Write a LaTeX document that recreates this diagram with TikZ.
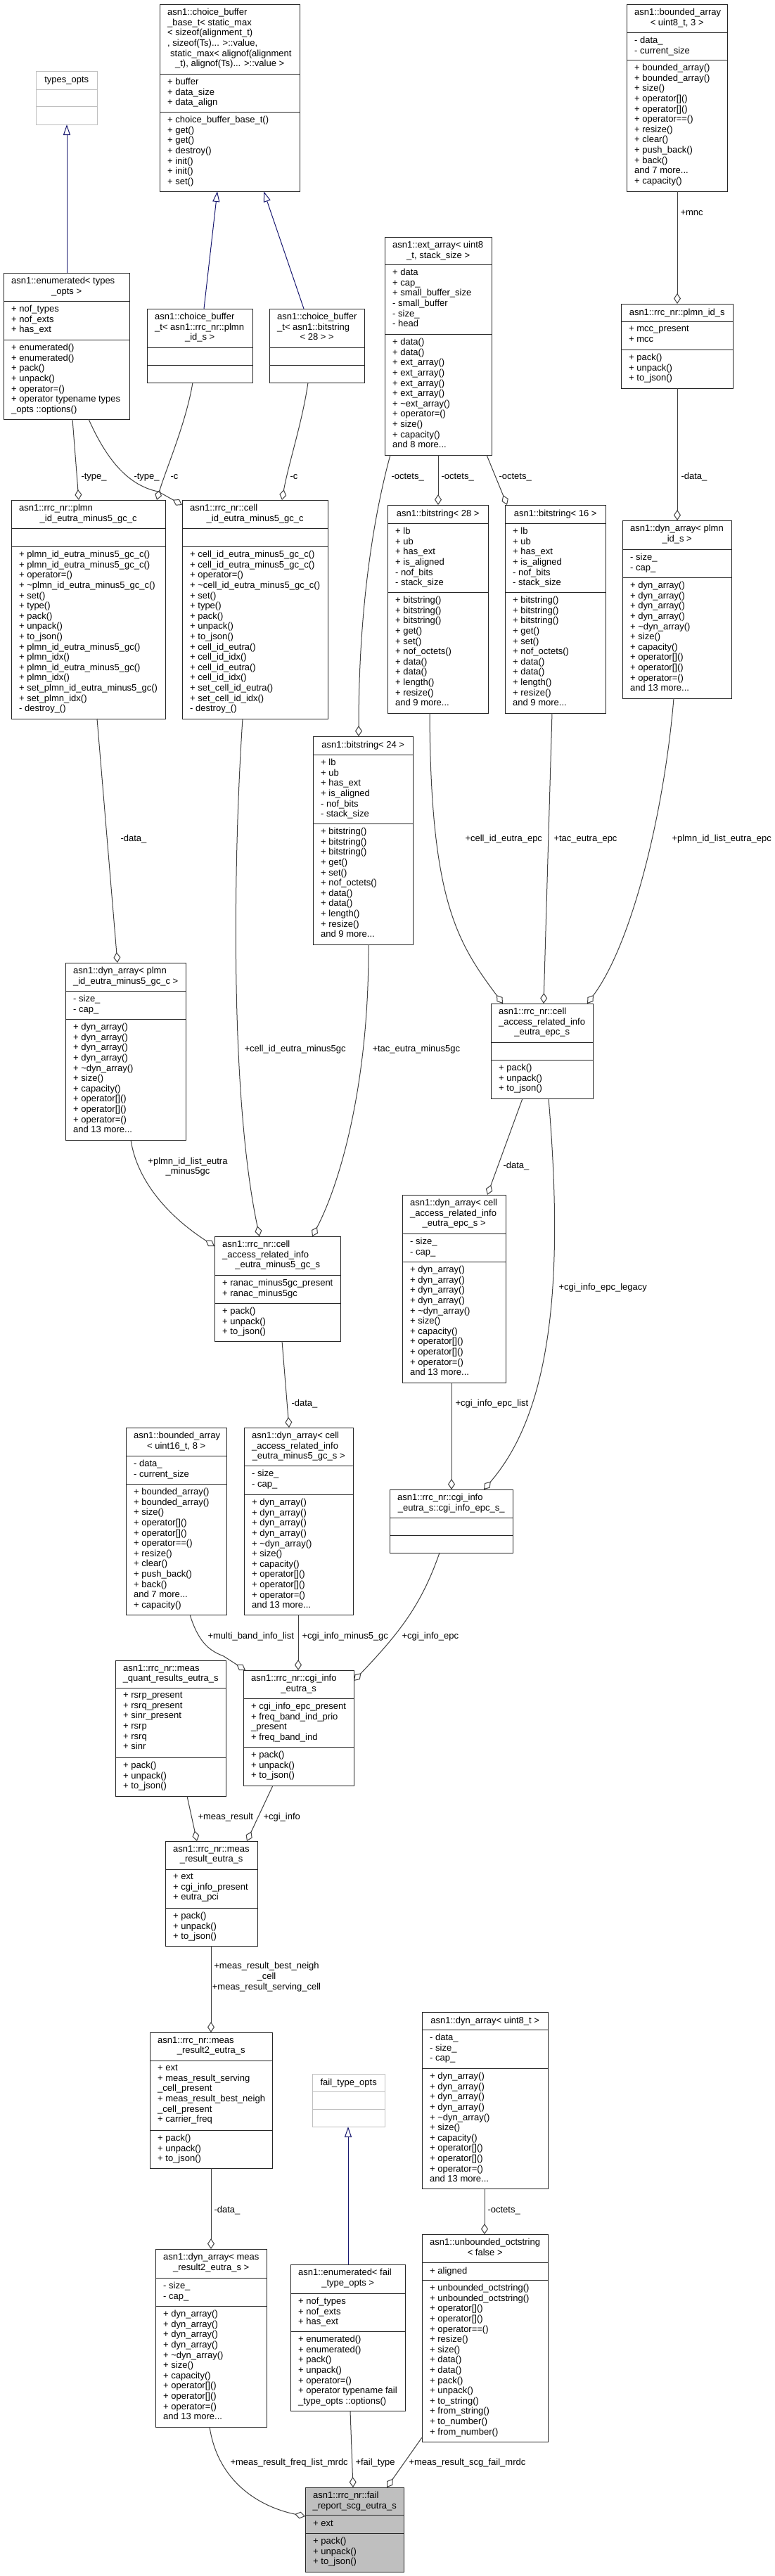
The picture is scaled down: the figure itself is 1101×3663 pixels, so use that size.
\documentclass[tikz,border=0pt]{standalone}
\usepackage{fontspec}
\setmainfont{Liberation Sans}
\usepackage{tikz}
\usetikzlibrary{arrows.meta,fit}
\definecolor{edgegray}{HTML}{404040}
\definecolor{edgeblue}{HTML}{191970}
\definecolor{optsgray}{HTML}{BFBFBF}
\newcommand{\classfont}{\fontsize{13}{14.6}\selectfont}
\newcommand{\lastline}[1]{\makebox[\titlew pt][c]{#1}}
\newcommand{\classbox}[7][]{%
  \pgfmathsetmacro{\titlew}{#5-#3-22}%
  \node[umlbox, #1, fit={(#3,#4) (#5,#6)}] (#2) {};
  \node[classtext, xshift=11pt, yshift=-6pt] at (#2.north west) {#7};
}
\newcommand{\members}[6][]{%
  \draw[umlline, #1] (#2.west |- 0,#3) -- (#2.east |- 0,#3);
  \draw[umlline, #1] (#2.west |- 0,#4) -- (#2.east |- 0,#4);
  \node[classtext, xshift=11pt, yshift=-6pt] at (#2.west |- 0,#3) {#5};
  \node[classtext, xshift=11pt, yshift=-6pt] at (#2.west |- 0,#4) {#6};
}
\newcommand{\pjmethods}{+ pack()\\+ unpack()\\+ to\_json()}
\newcommand{\dynattrs}{- size\_\\- cap\_}
\newcommand{\dynmethods}{+ dyn\_array()\\+ dyn\_array()\\+ dyn\_array()\\+ dyn\_array()\\+ \textasciitilde dyn\_array()\\+ size()\\+ capacity()\\+ operator[]()\\+ operator[]()\\+ operator=()\\and 13 more...}
\newcommand{\bitattrs}{+ lb\\+ ub\\+ has\_ext\\+ is\_aligned\\- nof\_bits\\- stack\_size}
\newcommand{\bitmethods}{+ bitstring()\\+ bitstring()\\+ bitstring()\\+ get()\\+ set()\\+ nof\_octets()\\+ data()\\+ data()\\+ length()\\+ resize()\\and 9 more...}
\newcommand{\boundedattrs}{- data\_\\- current\_size}
\newcommand{\boundedmethods}{+ bounded\_array()\\+ bounded\_array()\\+ size()\\+ operator[]()\\+ operator[]()\\+ operator==()\\+ resize()\\+ clear()\\+ push\_back()\\+ back()\\and 7 more...\\+ capacity()}
\newcommand{\enumattrs}{+ nof\_types\\+ nof\_exts\\+ has\_ext}
\tikzset{
  umlbox/.style={draw=black!85, line width=1pt, fill=white, inner sep=0pt, outer sep=0pt},
  optsbox/.style={draw=optsgray},
  focusbox/.style={fill=optsgray},
  umlline/.style={draw=black!85, line width=1pt},
  optsline/.style={draw=optsgray},
  classtext/.style={anchor=north west, inner sep=0pt, align=left, font=\classfont, execute at begin node=\strut},
  lbl/.style={anchor=west, inner sep=0pt, font=\classfont, execute at begin node=\strut},
  agg/.style={draw=edgegray, line width=1pt, -{Diamond[open, length=15pt, width=10pt]}},
  inherit/.style={draw=edgeblue, line width=1pt, -{Triangle[open, length=15pt, width=10pt]}}
}
\begin{document}
\begin{tikzpicture}[x=1pt, y=-1pt]
\path[use as bounding box, fill=white] (0,0) rectangle (1101,3663);

\classbox[optsbox]{tyopts}{51}{101}{138}{177}{\lastline{types\_opts}}
\members[optsline]{tyopts}{127}{151}{}{}
\classbox{cbbase}{227}{6}{426}{272}{asn1::choice\_buffer\\\_base\_t< static\_max\\< sizeof(alignment\_t)\\, sizeof(Ts)... >::value,\\\hspace{4pt}static\_max< alignof(alignment\\\lastline{\_t), alignof(Ts)... >::value >}}
\members{cbbase}{105}{159}{+ buffer\\+ data\_size\\+ data\_align}{+ choice\_buffer\_base\_t()\\+ get()\\+ get()\\+ destroy()\\+ init()\\+ init()\\+ set()}
\classbox{barr8}{891}{6}{1034}{272}{asn1::bounded\_array\\\lastline{< uint8\_t, 3 >}}
\members{barr8}{46}{85}{\boundedattrs}{\boundedmethods}
\classbox{enumty}{5}{388}{184}{596}{asn1::enumerated< types\\\lastline{\_opts >}}
\members{enumty}{428}{483}{\enumattrs}{+ enumerated()\\+ enumerated()\\+ pack()\\+ unpack()\\+ operator=()\\+ operator typename types\\\_opts ::options()}
\classbox{cbplmn}{209}{439}{359}{544}{asn1::choice\_buffer\\\_t< asn1::rrc\_nr::plmn\\\lastline{\_id\_s >}}
\members{cbplmn}{494}{519}{}{}
\classbox{cbbs28}{383}{439}{518}{544}{asn1::choice\_buffer\\\_t< asn1::bitstring\\\lastline{< 28 > >}}
\members{cbbs28}{494}{519}{}{}
\classbox{extarr}{547}{337}{699}{647}{asn1::ext\_array< uint8\\\lastline{\_t, stack\_size >}}
\members{extarr}{376}{475}{+ data\\+ cap\_\\+ small\_buffer\_size\\- small\_buffer\\- size\_\\- head}{+ data()\\+ data()\\+ ext\_array()\\+ ext\_array()\\+ ext\_array()\\+ ext\_array()\\+ \textasciitilde ext\_array()\\+ operator=()\\+ size()\\+ capacity()\\and 8 more...}
\classbox{plmnid}{883}{432}{1042}{552}{\lastline{asn1::rrc\_nr::plmn\_id\_s}}
\members{plmnid}{457}{497}{+ mcc\_present\\+ mcc}{\pjmethods}
\classbox{plmneutra}{16}{711}{235}{1022}{asn1::rrc\_nr::plmn\\\lastline{\_id\_eutra\_minus5\_gc\_c}}
\members{plmneutra}{751}{777}{}{+ plmn\_id\_eutra\_minus5\_gc\_c()\\+ plmn\_id\_eutra\_minus5\_gc\_c()\\+ operator=()\\+ \textasciitilde plmn\_id\_eutra\_minus5\_gc\_c()\\+ set()\\+ type()\\+ pack()\\+ unpack()\\+ to\_json()\\+ plmn\_id\_eutra\_minus5\_gc()\\+ plmn\_idx()\\+ plmn\_id\_eutra\_minus5\_gc()\\+ plmn\_idx()\\+ set\_plmn\_id\_eutra\_minus5\_gc()\\+ set\_plmn\_idx()\\- destroy\_()}
\classbox{cellideutra}{259}{711}{466}{1022}{asn1::rrc\_nr::cell\\\lastline{\_id\_eutra\_minus5\_gc\_c}}
\members{cellideutra}{751}{777}{}{+ cell\_id\_eutra\_minus5\_gc\_c()\\+ cell\_id\_eutra\_minus5\_gc\_c()\\+ operator=()\\+ \textasciitilde cell\_id\_eutra\_minus5\_gc\_c()\\+ set()\\+ type()\\+ pack()\\+ unpack()\\+ to\_json()\\+ cell\_id\_eutra()\\+ cell\_id\_idx()\\+ cell\_id\_eutra()\\+ cell\_id\_idx()\\+ set\_cell\_id\_eutra()\\+ set\_cell\_id\_idx()\\- destroy\_()}
\classbox{bs28}{551}{718}{694}{1014}{\lastline{asn1::bitstring< 28 >}}
\members{bs28}{744}{842}{\bitattrs}{\bitmethods}
\classbox{bs16}{718}{718}{861}{1014}{\lastline{asn1::bitstring< 16 >}}
\members{bs16}{744}{842}{\bitattrs}{\bitmethods}
\classbox{dynplmnid}{885}{740}{1040}{993}{asn1::dyn\_array< plmn\\\lastline{\_id\_s >}}
\members{dynplmnid}{781}{821}{\dynattrs}{\dynmethods}
\classbox{bs24}{445}{1047}{587}{1343}{\lastline{asn1::bitstring< 24 >}}
\members{bs24}{1073}{1171}{\bitattrs}{\bitmethods}
\classbox{dynplmneutra}{93}{1369}{264}{1621}{asn1::dyn\_array< plmn\\\lastline{\_id\_eutra\_minus5\_gc\_c >}}
\members{dynplmneutra}{1409}{1449}{\dynattrs}{\dynmethods}
\classbox{carepc}{698}{1427}{843}{1562}{asn1::rrc\_nr::cell\\\_access\_related\_info\\\lastline{\_eutra\_epc\_s}}
\members{carepc}{1482}{1507}{}{\pjmethods}
\classbox{dynepc}{572}{1699}{719}{1966}{asn1::dyn\_array< cell\\\_access\_related\_info\\\lastline{\_eutra\_epc\_s >}}
\members{dynepc}{1754}{1794}{\dynattrs}{\dynmethods}
\classbox{carim5}{305}{1758}{484}{1907}{asn1::rrc\_nr::cell\\\_access\_related\_info\\\lastline{\_eutra\_minus5\_gc\_s}}
\members{carim5}{1813}{1853}{+ ranac\_minus5gc\_present\\+ ranac\_minus5gc}{\pjmethods}
\classbox{barr16}{179}{2030}{322}{2296}{asn1::bounded\_array\\\lastline{< uint16\_t, 8 >}}
\members{barr16}{2070}{2110}{\boundedattrs}{\boundedmethods}
\classbox{dynm5}{347}{2030}{502}{2296}{asn1::dyn\_array< cell\\\_access\_related\_info\\\lastline{\_eutra\_minus5\_gc\_s >}}
\members{dynm5}{2084}{2125}{\dynattrs}{\dynmethods}
\classbox{cgiepc}{554}{2118}{729}{2208}{asn1::rrc\_nr::cgi\_info\\\lastline{\_eutra\_s::cgi\_info\_epc\_s\_}}
\members{cgiepc}{2158}{2183}{}{}
\classbox{measquant}{164}{2361}{321}{2554}{asn1::rrc\_nr::meas\\\lastline{\_quant\_results\_eutra\_s}}
\members{measquant}{2400}{2499}{+ rsrp\_present\\+ rsrq\_present\\+ sinr\_present\\+ rsrp\\+ rsrq\\+ sinr}{\pjmethods}
\classbox{cgieutra}{346}{2375}{503}{2539}{asn1::rrc\_nr::cgi\_info\\\lastline{\_eutra\_s}}
\members{cgieutra}{2415}{2484}{+ cgi\_info\_epc\_present\\+ freq\_band\_ind\_prio\\\_present\\+ freq\_band\_ind}{\pjmethods}
\classbox{measres}{235}{2618}{366}{2767}{asn1::rrc\_nr::meas\\\lastline{\_result\_eutra\_s}}
\members{measres}{2658}{2713}{+ ext\\+ cgi\_info\_present\\+ eutra\_pci}{\pjmethods}
\classbox{measres2}{213}{2890}{387}{3083}{asn1::rrc\_nr::meas\\\lastline{\_result2\_eutra\_s}}
\members{measres2}{2930}{3029}{+ ext\\+ meas\_result\_serving\\\_cell\_present\\+ meas\_result\_best\_neigh\\\_cell\_present\\+ carrier\_freq}{\pjmethods}
\classbox[optsbox]{ftopts}{444}{2949}{547}{3024}{\lastline{fail\_type\_opts}}
\members[optsline]{ftopts}{2974}{2999}{}{}
\classbox{dynu8}{600}{2861}{779}{3112}{\lastline{asn1::dyn\_array< uint8\_t >}}
\members{dynu8}{2886}{2941}{- data\_\\\dynattrs}{\dynmethods}
\classbox{unbocts}{600}{3177}{779}{3472}{asn1::unbounded\_octstring\\\lastline{< false >}}
\members{unbocts}{3217}{3242}{+ aligned}{+ unbounded\_octstring()\\+ unbounded\_octstring()\\+ operator[]()\\+ operator[]()\\+ operator==()\\+ resize()\\+ size()\\+ data()\\+ data()\\+ pack()\\+ unpack()\\+ to\_string()\\+ from\_string()\\+ to\_number()\\+ from\_number()}
\classbox{dynmr2}{221}{3198}{379}{3451}{asn1::dyn\_array< meas\\\lastline{\_result2\_eutra\_s >}}
\members{dynmr2}{3239}{3279}{\dynattrs}{\dynmethods}
\classbox{enumft}{413}{3220}{576}{3428}{asn1::enumerated< fail\\\lastline{\_type\_opts >}}
\members{enumft}{3261}{3315}{\enumattrs}{+ enumerated()\\+ enumerated()\\+ pack()\\+ unpack()\\+ operator=()\\+ operator typename fail\\\_type\_opts ::options()}
\classbox[focusbox]{failrep}{434}{3537}{574}{3657}{asn1::rrc\_nr::fail\\\lastline{\_report\_scg\_eutra\_s}}
\members{failrep}{3576}{3602}{+ ext}{\pjmethods}

% inheritance
\draw[inherit] (enumty.north -| 95,0) -- (tyopts.south -| 95,0);
\draw[inherit] (cbplmn.north -| 290,0) -- (cbbase.south -| 309,0);
\draw[inherit] (cbbs28.north -| 432,0) -- (cbbase.south -| 375,0);
\draw[inherit] (enumft.north -| 495,0) -- (ftopts.south -| 495,0);

% members
\draw[agg] (barr8.south -| 963,0) -- (plmnid.north -| 963,0) node[lbl] at (967,304) {+mnc};
\draw[agg] (enumty.south -| 103,0) -- (plmneutra.north -| 112,0) node[lbl] at (115,679) {-type\_};
\draw[agg] (enumty.south -| 126,0) .. controls (150,650) and (180,690) .. (225,699) -- (cellideutra.west |- 0,718) node[lbl] at (190,679) {-type\_};
\draw[agg] (cbplmn.south -| 274,0) .. controls (265,600) and (235,670) .. (plmneutra.north -| 223,0) node[lbl] at (242,679) {-c};
\draw[agg] (cbbs28.south -| 438,0) .. controls (430,600) and (410,660) .. (cellideutra.north -| 401,0) node[lbl] at (412,679) {-c};
\draw[agg] (extarr.south -| 555,0) .. controls (535,720) and (510,850) .. (bs24.north -| 510,0) node[lbl] at (556,679) {-octets\_};
\draw[agg] (extarr.south -| 623,0) -- (bs28.north -| 623,0) node[lbl] at (627,679) {-octets\_};
\draw[agg] (extarr.south -| 692,0) -- (bs16.north -| 721,0) node[lbl] at (709,679) {-octets\_};
\draw[agg] (plmnid.south -| 963,0) -- (dynplmnid.north -| 963,0) node[lbl] at (968,679) {-data\_};
\draw[agg] (plmneutra.south -| 138,0) -- (dynplmneutra.north -| 167,0) node[lbl] at (171,1194) {-data\_};
\draw[agg] (cellideutra.south -| 345,0) .. controls (333,1200) and (325,1550) .. (carim5.north -| 369,0) node[lbl] at (347,1493) {+cell\_id\_eutra\_minus5gc};
\draw[agg] (bs24.south -| 524,0) .. controls (525,1550) and (480,1690) .. (carim5.north -| 444,0) node[lbl] at (529,1493) {+tac\_eutra\_minus5gc};
\draw[agg] (dynplmneutra.south -| 186,0) .. controls (195,1680) and (240,1730) .. (carim5.west |- 0,1772) node[lbl, anchor=center, align=center] at (267,1660) {+plmn\_id\_list\_eutra\\\_minus5gc};
\draw[agg] (bs28.south -| 611,0) .. controls (612,1280) and (650,1340) .. (carepc.north -| 715,0) node[lbl] at (661,1194) {+cell\_id\_eutra\_epc};
\draw[agg] (bs16.south -| 785,0) -- (carepc.north -| 773,0) node[lbl] at (787,1194) {+tac\_eutra\_epc};
\draw[agg] (dynplmnid.south -| 958,0) .. controls (945,1150) and (900,1340) .. (carepc.north -| 835,0) node[lbl] at (955,1194) {+plmn\_id\_list\_eutra\_epc};
\draw[agg] (carepc.south -| 743,0) -- (dynepc.north -| 693,0) node[lbl] at (715,1659) {-data\_};
\draw[agg] (carepc.south -| 780,0) .. controls (800,1800) and (790,2000) .. (cgiepc.north -| 688,0) node[lbl] at (794,1832) {+cgi\_info\_epc\_legacy};
\draw[agg] (dynepc.south -| 642,0) -- (cgiepc.north -| 642,0) node[lbl] at (647,1997) {+cgi\_info\_epc\_list};
\draw[agg] (carim5.south -| 401,0) -- (dynm5.north -| 411,0) node[lbl] at (414,1997) {-data\_};
\draw[agg] (barr16.south -| 270,0) .. controls (283,2338) and (300,2348) .. (318,2355) -- (cgieutra.north -| 349,0) node[lbl] at (295,2328) {+multi\_band\_info\_list};
\draw[agg] (dynm5.south -| 424,0) -- (cgieutra.north -| 424,0) node[lbl] at (429,2328) {+cgi\_info\_minus5\_gc};
\draw[agg] (cgiepc.south -| 625,0) .. controls (600,2280) and (570,2320) .. (cgieutra.east |- 0,2390) node[lbl] at (571,2328) {+cgi\_info\_epc};
\draw[agg] (measquant.south -| 266,0) -- (measres.north -| 280,0) node[lbl] at (281,2585) {+meas\_result};
\draw[agg] (cgieutra.south -| 388,0) -- (measres.north -| 351,0) node[lbl] at (374,2585) {+cgi\_info};
\draw[agg] (measres.south -| 300,0) -- (measres2.north -| 300,0) node[lbl, anchor=center, align=center] at (379,2812) {+meas\_result\_best\_neigh\\\_cell\\+meas\_result\_serving\_cell};
\draw[agg] (measres2.south -| 300,0) -- (dynmr2.north -| 300,0) node[lbl] at (304,3144) {-data\_};
\draw[agg] (dynu8.south -| 689,0) -- (unbocts.north -| 689,0) node[lbl] at (693,3144) {-octets\_};
\draw[agg] (dynmr2.south -| 298,0) .. controls (310,3530) and (370,3565) .. (failrep.west |- 0,3578) node[lbl] at (327,3503) {+meas\_result\_freq\_list\_mrdc};
\draw[agg] (enumft.south -| 498,0) -- (failrep.north -| 502,0) node[lbl] at (505,3503) {+fail\_type};
\draw[agg] (unbocts.west |- 0,3466) -- (failrep.north -| 550,0) node[lbl] at (581,3503) {+meas\_result\_scg\_fail\_mrdc};
\end{tikzpicture}
\end{document}
